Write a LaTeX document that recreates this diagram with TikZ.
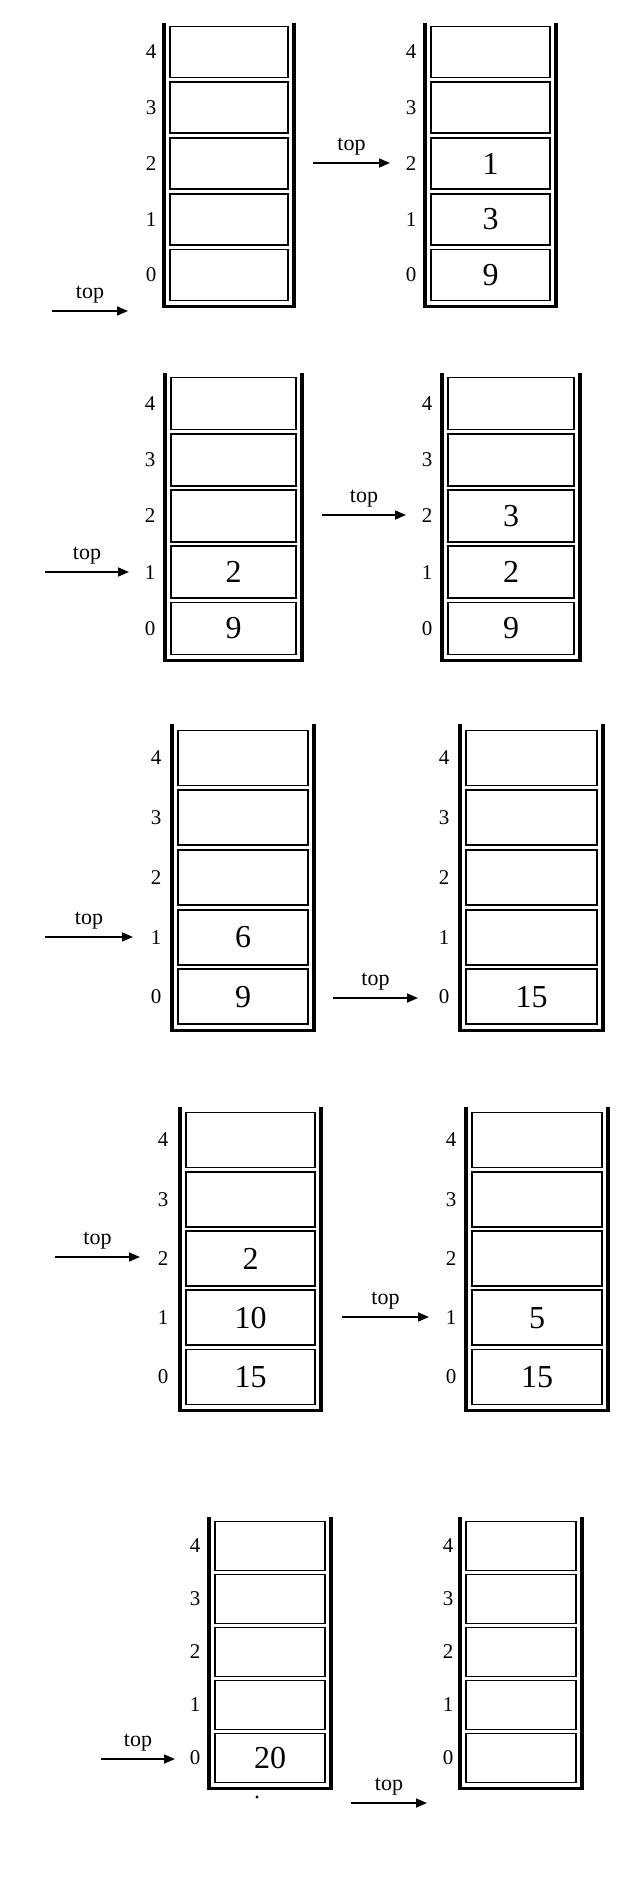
\documentclass[tikz,border=0pt]{standalone}
\usepackage{fontspec}
\setmainfont{Liberation Serif}
\usetikzlibrary{arrows.meta}
\tikzset{
  cell/.style={draw, rectangle, line width=0.9pt, inner sep=0pt},
  wall/.style={draw, line width=1.6pt, line join=miter},
  idx/.style={inner sep=0pt, font=\fontsize{10.5}{12}\selectfont},
  val/.style={inner sep=0pt, font=\fontsize{16}{18}\selectfont},
  ptr/.style={line width=0.8pt, -{Triangle[length=5.5pt,width=4.5pt]}},
  toplbl/.style={inner sep=0pt, font=\fontsize{11}{12}\selectfont, yshift=8pt},
}
% #1 name, #2 left wall x, #3 right wall x, #4 wall top y, #5 centre y of cell 4,
% #6 pitch, #7 half cell height, #8 index label x
\newcommand\drawstack[8]{%
  \pgfmathsetmacro\stkcw{(#3-#2-12)*0.5}%
  \pgfmathsetmacro\stkch{#7}%
  \pgfmathsetmacro\stkxc{(#2+#3)/2}%
  \pgfmathsetmacro\stkyb{#5+4*#6+#7+6}%
  \foreach \i in {0,...,4}{%
    \pgfmathsetmacro\stkyc{#5+(4-\i)*#6}%
    \node[cell, minimum width=\stkcw pt, minimum height=\stkch pt] (#1c\i) at (\stkxc,\stkyc) {};
    \node[idx] (#1i\i) at (#8,\stkyc) {\i};
  }%
  \draw[wall] (#2,#4) -- (#2,\stkyb) -- (#3,\stkyb) -- (#3,#4);
}
\begin{document}
\begin{tikzpicture}[x=0.5pt,y=-0.5pt]
\useasboundingbox[fill=white] (0,0) rectangle (622,1882);

% ---------- row 1 ----------
\drawstack{A}{164}{294}{23}{52}{55.75}{25.5}{151}
\drawstack{B}{425}{556}{23}{52}{55.75}{25.5}{411}
\node[val] (Bv2) at (Bc2) {1};
\node[val] (Bv1) at (Bc1) {3};
\node[val] (Bv0) at (Bc0) {9};
\coordinate (p1s) at (52,311);  \coordinate (p1e) at (128,311);
\draw[ptr] (p1s) -- (p1e) node[midway, toplbl] (t1) {top};
\coordinate (p2s) at (313,163); \coordinate (p2e) at (390,163);
\draw[ptr] (p2s) -- (p2e) node[midway, toplbl] (t2) {top};

% ---------- row 2 ----------
\drawstack{C}{165}{302}{373}{403.5}{56.25}{26}{150}
\drawstack{D}{442}{580}{373}{403.5}{56.25}{26}{427}
\node[val] (Cv1) at (Cc1) {2};
\node[val] (Cv0) at (Cc0) {9};
\node[val] (Dv2) at (Dc2) {3};
\node[val] (Dv1) at (Dc1) {2};
\node[val] (Dv0) at (Dc0) {9};
\coordinate (p3s) at (45,572);  \coordinate (p3e) at (129,572);
\draw[ptr] (p3s) -- (p3e) node[midway, toplbl] (t3) {top};
\coordinate (p4s) at (322,515); \coordinate (p4e) at (406,515);
\draw[ptr] (p4s) -- (p4e) node[midway, toplbl] (t4) {top};

% ---------- row 3 ----------
\drawstack{E}{172}{314}{724}{758}{59.7}{27.5}{156}
\drawstack{F}{460}{603}{724}{758}{59.7}{27.5}{444}
\node[val] (Ev1) at (Ec1) {6};
\node[val] (Ev0) at (Ec0) {9};
\node[val] (Fv0) at (Fc0) {15};
\coordinate (p5s) at (45,937);  \coordinate (p5e) at (133,937);
\draw[ptr] (p5s) -- (p5e) node[midway, toplbl] (t5) {top};
\coordinate (p6s) at (333,998); \coordinate (p6e) at (418,998);
\draw[ptr] (p6s) -- (p6e) node[midway, toplbl] (t6) {top};

% ---------- row 4 ----------
\drawstack{G}{180}{321}{1107}{1140}{59.25}{27.5}{163}
\drawstack{H}{466}{608}{1107}{1140}{59.25}{27.5}{451}
\node[val] (Gv2) at (Gc2) {2};
\node[val] (Gv1) at (Gc1) {10};
\node[val] (Gv0) at (Gc0) {15};
\node[val] (Hv1) at (Hc1) {5};
\node[val] (Hv0) at (Hc0) {15};
\coordinate (p7s) at (55,1257);  \coordinate (p7e) at (140,1257);
\draw[ptr] (p7s) -- (p7e) node[midway, toplbl] (t7) {top};
\coordinate (p8s) at (342,1317); \coordinate (p8e) at (429,1317);
\draw[ptr] (p8s) -- (p8e) node[midway, toplbl] (t8) {top};

% ---------- row 5 ----------
\drawstack{I}{209}{331}{1517}{1546}{53}{24.5}{195}
\drawstack{J}{460}{582}{1517}{1546}{53}{24.5}{448}
\node[val] (Iv0) at (Ic0) {20};
\coordinate (p9s) at (101,1759);  \coordinate (p9e) at (175,1759);
\draw[ptr] (p9s) -- (p9e) node[midway, toplbl] (t9) {top};
\coordinate (p10s) at (351,1803); \coordinate (p10e) at (427,1803);
\draw[ptr] (p10s) -- (p10e) node[midway, toplbl] (t10) {top};
\node[circle, fill, inner sep=0.6pt] (speck) at (257,1797) {};
\end{tikzpicture}
\end{document}
